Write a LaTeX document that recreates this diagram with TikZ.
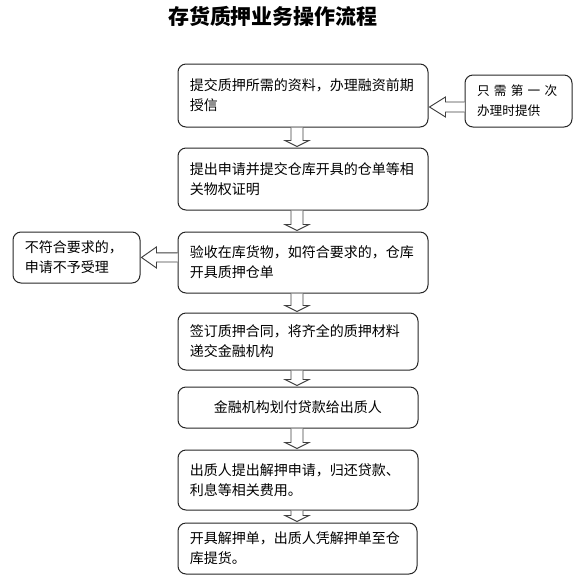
\documentclass[tikz,border=0pt]{standalone}
\usepackage{fontspec}
\setmainfont{Noto Sans CJK SC}
\usetikzlibrary{calc}
\tikzset{
  flowbox/.style={draw=black!85, line width=0.75pt, rounded corners=6pt, inner sep=0pt,
    align=left, font=\fontsize{10.5pt}{15pt}\selectfont},
  hollow/.style={draw=black!75, line width=0.7pt, fill=white, line join=miter},
}
% down hollow arrow between two nodes at canvas x = #3
\newcommand\hdown[3]{%
  \draw[hollow] let \p1=(#1.south), \p2=(#2.north) in
    ({#3-4.5pt},\y1) -- ({#3-4.5pt},{\y2+5.25pt}) -- ({#3-9pt},{\y2+5.25pt})
    -- (#3,{\y2+0.75pt}) -- ({#3+9pt},{\y2+5.25pt}) -- ({#3+4.5pt},{\y2+5.25pt})
    -- ({#3+4.5pt},\y1);}
% left hollow arrow from node #1 (right) to node #2 (left) at canvas y = #3
\newcommand\hleft[6]{%
  \draw[hollow] let \p1=(#1.west), \p2=(#2.east) in
    (\x1,{#3+#4}) -- ({\x2+0.75pt+#6},{#3+#4}) -- ({\x2+0.75pt+#6},{#3+#5})
    -- ({\x2+0.75pt},#3) -- ({\x2+0.75pt+#6},{#3-#5}) -- ({\x2+0.75pt+#6},{#3-#4})
    -- (\x1,{#3-#4});}
\begin{document}
\begin{tikzpicture}[x=0.75pt,y=-0.75pt]
\useasboundingbox (0,0) rectangle (580,587);
\node (title) at (273,16) {\fontsize{15.75pt}{18pt}\bfseries\selectfont 存货质押业务操作流程};

\node[flowbox, minimum width=187.5pt, minimum height=47.25pt, text width=169.5pt] (b1) at (303,95.5)
  {提交质押所需的资料，办理融资前期\\授信};
\node[flowbox, minimum width=187.5pt, minimum height=46.5pt, text width=169.5pt] (b2) at (303,179)
  {提出申请并提交仓库开具的仓单等相\\关物权证明};
\node[flowbox, minimum width=187.5pt, minimum height=45.75pt, text width=169.5pt] (b3) at (303,262.5)
  {验收在库货物，如符合要求的，仓库\\开具质押仓单};
\node[flowbox, minimum width=180pt, minimum height=42.75pt, text width=162pt] (b4) at (298,341.5)
  {签订质押合同，将齐全的质押材料\\递交金融机构};
\node[flowbox, minimum width=180pt, minimum height=30.75pt, text width=162pt, align=center] (b5) at (298,407.5)
  {金融机构划付贷款给出质人};
\node[flowbox, minimum width=180pt, minimum height=45pt, text width=162pt] (b6) at (298,480)
  {出质人提出解押申请，归还贷款、\\利息等相关费用。};
\node[flowbox, minimum width=179.25pt, minimum height=38.25pt, text width=161.25pt] (b7) at (297.5,548.5)
  {开具解押单，出质人凭解押单至仓\\库提货。};
\node[flowbox, minimum width=80.25pt, minimum height=39pt, text width=62.25pt,
  font=\fontsize{9.5pt}{15pt}\selectfont] (side) at (518.5,101)
  {只 需 第 一 次\\办理时提供};
\node[flowbox, minimum width=95.25pt, minimum height=38.25pt, text width=77.25pt] (rej) at (76.5,257.5)
  {不符合要求的，\\申请不予受理};

\hdown{b1}{b2}{222.75pt}
\hdown{b2}{b3}{222.75pt}
\hdown{b3}{b4}{222.75pt}
\hdown{b4}{b5}{222.75pt}
\hdown{b5}{b6}{222.75pt}
\hdown{b6}{b7}{222.75pt}
\hleft{side}{b1}{-80.25pt}{3.75pt}{7.5pt}{12pt}
\hleft{b3}{rej}{-193.1pt}{3.4pt}{7.9pt}{11.25pt}
\end{tikzpicture}
\end{document}
